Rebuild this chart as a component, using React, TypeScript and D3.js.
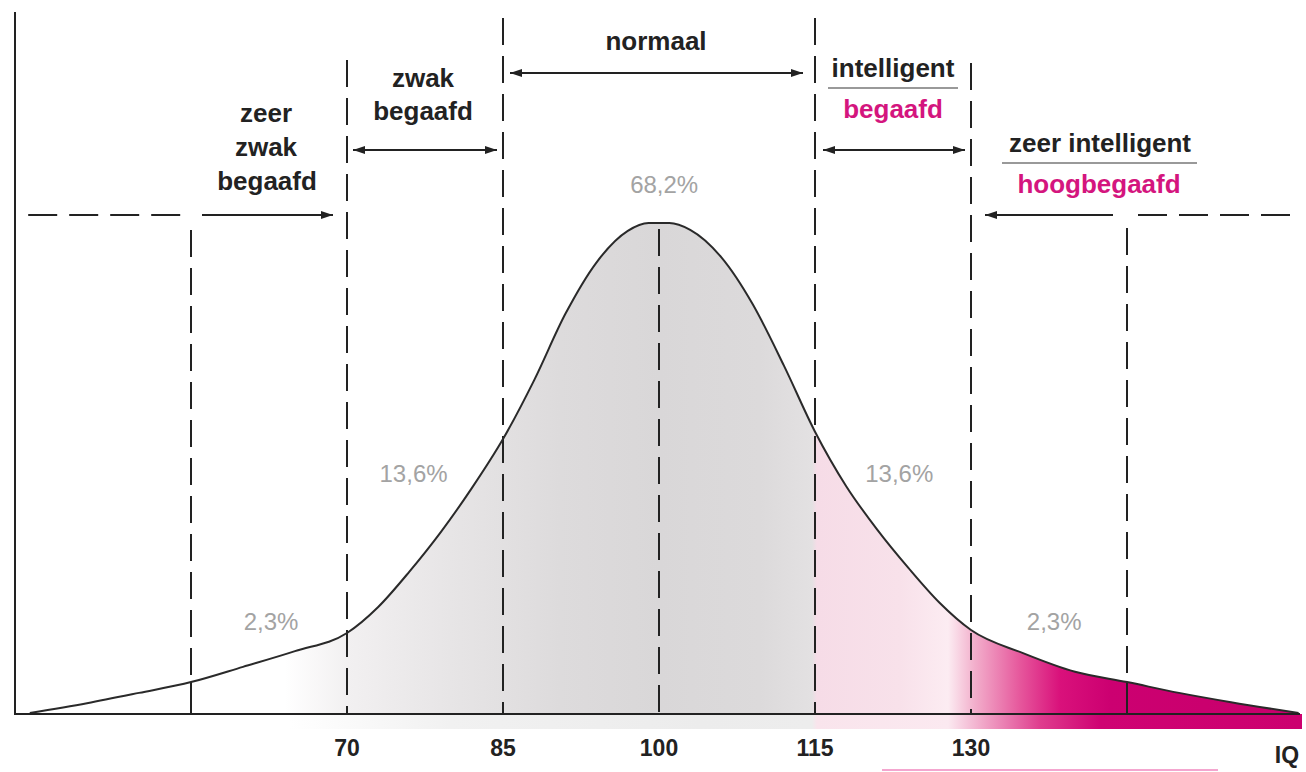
import * as d3 from 'd3'

// IQ values along the bell curve and the curve height (peak = 100)
const iqPoints = [39.5, 45, 50, 55, 60, 65, 70, 73, 76, 79, 82, 85, 88, 91, 94, 97, 99, 101, 103, 106, 109, 112, 115, 118, 121, 124, 127, 130, 135, 140, 145, 150, 155, 161.5]
const curveHeights = [0.2, 2.2, 4.3, 6.5, 9.6, 12.8, 16.5, 21.8, 29, 37, 46, 56, 68, 81.5, 92, 98.4, 100, 100, 98.6, 93, 83.5, 71, 57.5, 46.4, 37.5, 29.7, 22.6, 17.1, 12.4, 8.6, 6.5, 4.3, 2.4, 0.2]

const tickValues = [70, 85, 100, 115, 130]
const boundaries = [55, 70, 85, 100, 115, 130, 145]

const percentLabels = ['2,3%', '13,6%', '68,2%', '13,6%', '2,3%']
const percentIq = [62.7, 76.4, 100.5, 123.1, 138]
const percentLevel = [17.1, 47.3, 106.1, 47.3, 17.1]

const W = 1306
const H = 772
const baseY = 714
const font = '"Liberation Sans", Arial, Helvetica, sans-serif'
const ink = '#222'
const magenta = '#d4157e'

export default function App() {
  const x = d3.scaleLinear().domain([70, 130]).range([347, 971])
  const y = d3.scaleLinear().domain([0, 100]).range([baseY, 223])

  const pts: [number, number][] = iqPoints.map((iq, i) => [iq, curveHeights[i]])
  const line = d3.line<[number, number]>().x(d => x(d[0])).y(d => y(d[1])).curve(d3.curveMonotoneX)
  const area = d3.area<[number, number]>().x(d => x(d[0])).y0(baseY).y1(d => y(d[1])).curve(d3.curveMonotoneX)

  const heightAt = (iq: number) => curveHeights[iqPoints.indexOf(iq)]

  // tops of the vertical boundary lines
  const tops: Record<number, number> = {55: 230, 70: 60, 85: 18, 100: y(100) + 6, 115: 18, 130: 63, 145: 228}

  const fillStops: [number, string][] = [
    [30, '#ffffff'], [285, '#ffffff'], [347, '#f2f0f1'], [450, '#e7e5e6'], [560, '#dddbdc'],
    [660, '#d9d7d8'], [760, '#dcdadb'], [812, '#e3e1e2'], [817, '#f6dce7'], [900, '#f8e1ea'],
    [948, '#fcecf2'], [975, '#f2aecb'], [1020, '#e6579c'], [1060, '#d9117b'], [1110, '#cc0071'], [1300, '#c8006b'],
  ]
  const bandStops: [number, string][] = [
    [290, '#ffffff'], [450, '#f1f1f1'], [700, '#ececec'], [812, '#ededed'], [817, '#f9e4ec'],
    [948, '#fbe9f0'], [985, '#f0a3c6'], [1040, '#df3d8e'], [1100, '#cf0373'], [1300, '#cc006f'],
  ]

  const bold = {fontFamily: font, fontWeight: 700, fontSize: 26, fill: ink, textAnchor: 'middle' as const}

  return (
    <svg width={W} height={H} style={{position: 'absolute', left: 0, top: 0, background: '#fff'}}>
      <defs>
        <linearGradient id="fillGrad" gradientUnits="userSpaceOnUse" x1={0} x2={W} y1={0} y2={0}>
          {fillStops.map(([px, c], i) => <stop key={i} offset={px / W} stopColor={c} />)}
        </linearGradient>
        <linearGradient id="bandGrad" gradientUnits="userSpaceOnUse" x1={0} x2={W} y1={0} y2={0}>
          {bandStops.map(([px, c], i) => <stop key={i} offset={px / W} stopColor={c} />)}
        </linearGradient>
        <marker id="arrow" viewBox="0 0 12 8" refX={12} refY={4} markerWidth={12} markerHeight={8}
          markerUnits="userSpaceOnUse" orient="auto-start-reverse">
          <path d="M0,0 L12,4 L0,8 z" fill={ink} />
        </marker>
      </defs>

      {/* band under the axis */}
      <rect x={290} y={baseY} width={1302 - 290} height={15} fill="url(#bandGrad)" />
      <line x1={882} x2={1218} y1={770} y2={770} stroke="#f4a6cf" strokeWidth={2} />

      {/* area under curve */}
      <path d={area(pts) ?? ''} fill="url(#fillGrad)" />

      {/* vertical boundaries */}
      {boundaries.map(b => (
        <line key={b} x1={x(b)} x2={x(b)} y1={tops[b]} y2={baseY} stroke={ink} strokeWidth={2} strokeDasharray="27,11" />
      ))}
      {[55, 145].map(b => (
        <line key={'s' + b} x1={x(b)} x2={x(b)} y1={y(heightAt(b))} y2={baseY} stroke={ink} strokeWidth={2} />
      ))}

      {/* curve */}
      <path d={line(pts) ?? ''} fill="none" stroke="#2a2a2a" strokeWidth={2} />

      {/* axes */}
      <line x1={15} x2={15} y1={12} y2={baseY} stroke={ink} strokeWidth={2} />
      <line x1={14} x2={1300} y1={baseY} y2={baseY} stroke={ink} strokeWidth={2} />

      {/* tick labels */}
      {tickValues.map(t => (
        <text key={t} x={x(t)} y={756} textAnchor="middle" fontFamily={font} fontWeight={700} fontSize={23} fill={ink}>{t}</text>
      ))}
      <text x={1287} y={763} textAnchor="middle" fontFamily={font} fontWeight={700} fontSize={23} fill={ink}>IQ</text>

      {/* percentages */}
      {percentLabels.map((p, i) => (
        <text key={i} x={x(percentIq[i])} y={y(percentLevel[i])} textAnchor="middle" fontFamily={font} fontSize={24} fill="#a3a3a3">{p}</text>
      ))}

      {/* horizontal dashed lines and arrows */}
      <line x1={x(38) + 14} x2={x(55) - 9} y1={215} y2={215} stroke={ink} strokeWidth={2} strokeDasharray="29,12" />
      <line x1={x(55) + 11} x2={x(70) - 14} y1={215} y2={215} stroke={ink} strokeWidth={2} markerEnd="url(#arrow)" />
      <line x1={x(70) + 6} x2={x(85) - 6} y1={150} y2={150} stroke={ink} strokeWidth={2} markerStart="url(#arrow)" markerEnd="url(#arrow)" />
      <line x1={x(85) + 7} x2={x(115) - 12} y1={73} y2={73} stroke={ink} strokeWidth={2} markerStart="url(#arrow)" markerEnd="url(#arrow)" />
      <line x1={x(115) + 8} x2={x(130) - 6} y1={150} y2={150} stroke={ink} strokeWidth={2} markerStart="url(#arrow)" markerEnd="url(#arrow)" />
      <line x1={x(145) - 14} x2={x(130) + 14} y1={215} y2={215} stroke={ink} strokeWidth={2} markerEnd="url(#arrow)" />
      <line x1={x(145) + 11} x2={1292} y1={215} y2={215} stroke={ink} strokeWidth={2} strokeDasharray="29,12" />

      {/* category labels */}
      <text {...bold} x={266} y={122}>zeer</text>
      <text {...bold} x={266} y={156}>zwak</text>
      <text {...bold} x={267} y={190}>begaafd</text>

      <text {...bold} x={423} y={87}>zwak</text>
      <text {...bold} x={423} y={120}>begaafd</text>

      <text {...bold} x={656} y={50}>normaal</text>

      <text {...bold} x={893} y={77}>intelligent</text>
      <line x1={828} x2={958} y1={88} y2={88} stroke="#999" strokeWidth={2} />
      <text {...bold} x={893} y={118} fill={magenta}>begaafd</text>

      <text {...bold} x={1100} y={152}>zeer intelligent</text>
      <line x1={1002} x2={1197} y1={163} y2={163} stroke="#999" strokeWidth={2} />
      <text {...bold} x={1099} y={193} fill={magenta}>hoogbegaafd</text>
    </svg>
  )
}
